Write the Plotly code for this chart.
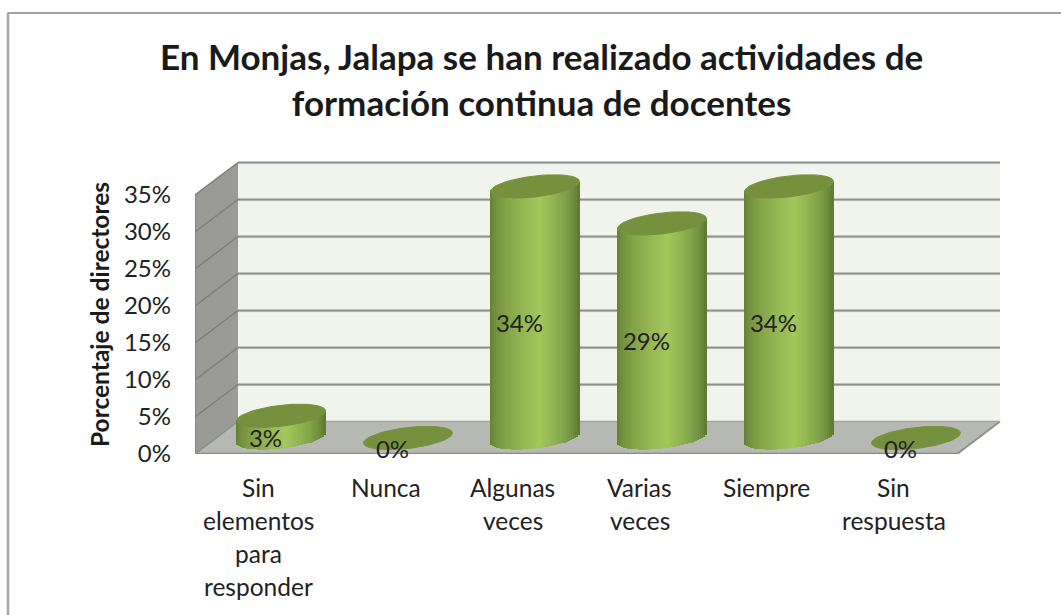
import math
import plotly.graph_objects as go

categories = ["Sin elementos para responder", "Nunca", "Algunas veces", "Varias veces", "Siempre", "Sin respuesta"]
label_lines = [["Sin", "elementos", "para", "responder"], ["Nunca"], ["Algunas", "veces"], ["Varias", "veces"], ["Siempre"], ["Sin", "respuesta"]]
values = [3, 0, 34, 29, 34, 0]
y_ticks = [0, 5, 10, 15, 20, 25, 30, 35]
y_ticktext = ["0%", "5%", "10%", "15%", "20%", "25%", "30%", "35%"]
title_text = "En Monjas, Jalapa se han realizado actividades de<br>formación continua de docentes"
y_title = "Porcentaje de directores"

W, H = 1061, 615
L, FLOOR = 195, 454     # pixel position of the front axis corner
UX, UY = 127.0, 7.4     # pixels per category and per percent


def PX(px):
    return (px - L) / (W - L)


def PY(py):
    return (FLOOR - py) / FLOOR


DX, DY = 43 / UX, 32.5 / UY    # depth of the 3D box
BAR_DX, BAR_DY = 22.5 / UX, 16 / UY
RX = 44.5
RY, TILT = 10.5, 5.0
FONT = "Lato, Carlito, Calibri, sans-serif"


def lerp(a, b, t):
    return tuple(a[i] + (b[i] - a[i]) * t for i in range(3))


def shade(u):
    dark_l, bright, dark_r = (96, 124, 52), (163, 200, 92), (88, 114, 48)
    t = (u + 1) / 1.1 if u < 0.1 else (1 - u) / 0.9
    t = max(0.0, min(1.0, t)) ** 0.6
    c = lerp(dark_l if u < 0.1 else dark_r, bright, t)
    return "rgb(%d,%d,%d)" % c


shapes = []


def poly(pts, fill, line=None, lw=0):
    path = "M " + " L ".join(f"{x:.4f},{y:.4f}" for x, y in pts) + " Z"
    shapes.append(dict(type="path", xref="x", yref="y", path=path, fillcolor=fill,
                       line=dict(color=line or fill, width=lw), layer="below"))


def seg(x0, y0, x1, y1, color, lw):
    shapes.append(dict(type="line", xref="x", yref="y", x0=x0, y0=y0, x1=x1, y1=y1,
                       line=dict(color=color, width=lw), layer="below"))


top = y_ticks[-1]
n = len(categories)
# back wall, side wall, floor
poly([(DX, DY), (n + DX, DY), (n + DX, top + DY), (DX, top + DY)], "#f1f4ec")
poly([(0, 0), (DX, DY), (DX, top + DY), (0, top)], "#9a9b96")
poly([(0, 0), (n, 0), (n + DX, DY), (DX, DY)], "#b6b8b3")
for v in y_ticks:
    if v > 0:
        seg(DX, v + DY - 0.15, n + DX, v + DY - 0.15, "#d2d3d0", 1)
        seg(DX, v + DY, n + DX, v + DY, "#8f908d", 2)
        seg(0, v, DX, v + DY, "#7d7e7a", 1.5)
seg(0, 0, 0, top, "#868783", 2)
seg(0, 0, n, 0, "#8a8b87", 2.5)
seg(n, 0, n + DX, DY, "#8f908c", 2)
seg(DX, DY, n + DX, DY, "#a3a49f", 1.5)
seg(0, 0, DX, DY, "#8d8e8a", 1.5)
# outer frame of the chart (paper coordinates so it is not clipped)
shapes.append(dict(type="line", xref="paper", yref="paper", x0=PX(7.5), y0=PY(13), x1=PX(W), y1=PY(13),
                   line=dict(color="#a0a0a0", width=2)))
shapes.append(dict(type="line", xref="paper", yref="paper", x0=PX(8), y0=PY(13), x1=PX(8), y1=PY(H),
                   line=dict(color="#a6a6a6", width=2.5)))

fig = go.Figure()

# cylinder bodies, drawn as thin vertical strips so they carry a gradient
STRIPS = 44
shown = [i for i, v in enumerate(values) if v > 0]
for s in range(STRIPS):
    u = -1 + 2 * (s + 0.5) / STRIPS
    curve = RY * math.sqrt(max(0.0, 1 - u * u))
    slope = TILT * u
    centers = [i + 0.5 + BAR_DX + u * RX / UX for i in shown]
    bases = [BAR_DY + (slope - curve) / UY for _ in shown]
    heights = [values[i] + curve / UY for i in shown]
    fig.add_trace(go.Bar(x=centers, y=heights, base=bases, width=2.4 / UX,
                         marker=dict(color=shade(u), line=dict(width=0)),
                         hoverinfo="skip", showlegend=False))

# cylinder caps
cap_x, cap_y = [], []
for i, v in enumerate(values):
    for k in range(73):
        t = 2 * math.pi * k / 72
        c, d = math.cos(t), math.sin(t)
        cap_x.append(i + 0.5 + BAR_DX + RX * c / UX)
        cap_y.append(v + BAR_DY + (TILT * c + RY * d) / UY)
    cap_x.append(None)
    cap_y.append(None)
fig.add_trace(go.Scatter(x=cap_x, y=cap_y, mode="lines", fill="toself", fillcolor="#76913d",
                         line=dict(color="#76913d", width=1), hoverinfo="skip", showlegend=False))

# data labels
fig.add_trace(go.Scatter(x=[i + 0.5 + 7 / UX for i in range(n)], y=[v / 2 + 0.3 for v in values],
                         mode="text", text=[f"{v}%" for v in values], cliponaxis=False,
                         textposition="middle center", textfont=dict(family=FONT, size=24, color="#222222"),
                         hoverinfo="skip", showlegend=False))

annotations = [dict(x=PX(541), y=PY(79.5), xref="paper", yref="paper", text="<b>" + title_text + "</b>",
                    xanchor="center", yanchor="middle",
                    showarrow=False, font=dict(family=FONT, size=35, color="#1a1a1a"), align="center"),
               dict(x=PX(99), y=PY(315), xref="paper", yref="paper", text="<b>" + y_title + "</b>", textangle=-90,
                    xanchor="center", yanchor="middle",
                    showarrow=False, font=dict(family=FONT, size=24.5, color="#1a1a1a"))]
for i, lines in enumerate(label_lines):
    for j, line in enumerate(lines):
        annotations.append(dict(x=i + 0.5, y=PY(487.5 + 33 * j), xref="x", yref="paper", text=line, showarrow=False,
                                xanchor="center", yanchor="middle",
                                font=dict(family=FONT, size=24.5, color="#222222")))

fig.update_layout(
    width=W, height=H, autosize=False, barmode="overlay", bargap=0,
    margin=dict(l=L, r=0, t=0, b=H - FLOOR, pad=0),
    paper_bgcolor="white", plot_bgcolor="rgba(0,0,0,0)",
    shapes=shapes, annotations=annotations, showlegend=False,
    xaxis=dict(range=[0, (W - L) / UX], showgrid=False, zeroline=False, showticklabels=False, ticks="", fixedrange=True),
    yaxis=dict(range=[0, FLOOR / UY], tickmode="array", tickvals=y_ticks, ticktext=y_ticktext, showgrid=False,
               zeroline=False, ticks="", ticklabelstandoff=23, fixedrange=True,
               tickfont=dict(family=FONT, size=24, color="#222222")),
)
fig.write_html("out.html", config=dict(displayModeBar=False),
               post_script="document.body.style.margin='0';document.documentElement.style.overflow='hidden';")
